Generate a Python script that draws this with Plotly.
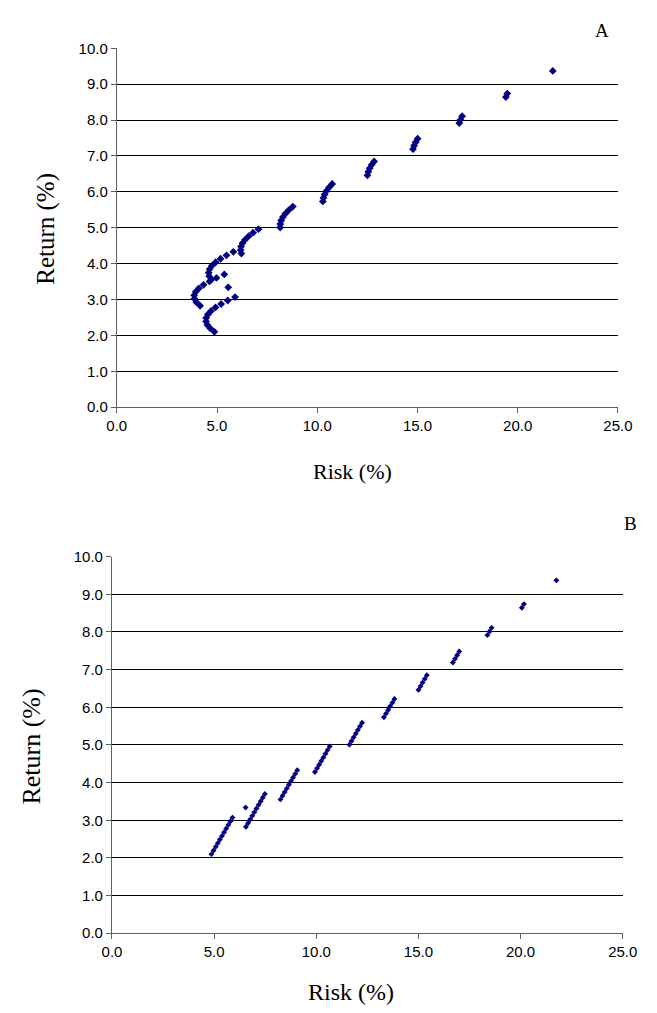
import plotly.graph_objects as go

# Expected return (%) of each portfolio (same portfolios in both panels)
returns = [
    2.100, 2.197, 2.294, 2.391, 2.488, 2.585, 2.682, 2.779, 2.876, 2.973, 3.070,
    2.827, 2.924, 3.021, 3.118, 3.215, 3.312, 3.409, 3.506, 3.603, 3.700,
    3.554, 3.651, 3.748, 3.845, 3.942, 4.039, 4.136, 4.233, 4.330,
    4.281, 4.378, 4.475, 4.572, 4.669, 4.766, 4.863, 4.960,
    5.008, 5.105, 5.202, 5.299, 5.396, 5.493, 5.590,
    5.735, 5.832, 5.929, 6.026, 6.123, 6.220,
    6.462, 6.559, 6.656, 6.753, 6.850,
    7.189, 7.286, 7.383, 7.480,
    7.916, 8.013, 8.110,
    8.643, 8.740,
    9.370,
    3.340,
]

# Panel A risk (%)
risk_a = [
    4.870, 4.662, 4.521, 4.453, 4.461, 4.546, 4.703, 4.926, 5.205, 5.533, 5.900,
    4.156, 3.975, 3.874, 3.862, 3.937, 4.096, 4.330, 4.626, 4.974, 5.364,
    4.716, 4.612, 4.583, 4.628, 4.746, 4.931, 5.176, 5.473, 5.815,
    6.215, 6.180, 6.199, 6.273, 6.401, 6.578, 6.801, 7.067,
    8.150, 8.155, 8.201, 8.288, 8.415, 8.581, 8.782,
    10.279, 10.307, 10.369, 10.462, 10.588, 10.744,
    12.502, 12.546, 12.616, 12.713, 12.837,
    14.777, 14.831, 14.908, 15.008,
    17.084, 17.145, 17.227,
    19.410, 19.478,
    21.750,
    5.560,
]

# Panel B risk (%)
risk_b = [
    4.870, 4.973, 5.076, 5.179, 5.282, 5.385, 5.488, 5.591, 5.694, 5.797, 5.900,
    6.558, 6.661, 6.764, 6.867, 6.970, 7.073, 7.176, 7.279, 7.382, 7.485,
    8.246, 8.349, 8.452, 8.555, 8.658, 8.761, 8.864, 8.967, 9.070,
    9.934, 10.037, 10.140, 10.243, 10.346, 10.449, 10.552, 10.655,
    11.622, 11.725, 11.828, 11.931, 12.034, 12.137, 12.240,
    13.310, 13.413, 13.516, 13.619, 13.722, 13.825,
    14.998, 15.101, 15.204, 15.307, 15.410,
    16.686, 16.789, 16.892, 16.995,
    18.374, 18.477, 18.580,
    20.062, 20.165,
    21.750,
    6.540,
]

x_ticks = [0, 5, 10, 15, 20, 25]
y_ticks = [0, 1, 2, 3, 4, 5, 6, 7, 8, 9, 10]
x_title = "Risk (%)"
y_title = "Return (%)"
panel_labels = ["A", "B"]

W, H = 657, 1013
NAVY = "#000080"
TICKFONT = dict(family="Liberation Sans", size=15, color="black")
SERIF = "Liberation Serif"

fig = go.Figure()
fig.add_trace(go.Scatter(x=risk_a, y=returns, mode="markers", xaxis="x", yaxis="y",
                         marker=dict(symbol="diamond", size=6, color=NAVY,
                                     line=dict(width=0)),
                         showlegend=False, hoverinfo="x+y"))
fig.add_trace(go.Scatter(x=risk_b, y=returns, mode="markers", xaxis="x2", yaxis="y2",
                         marker=dict(symbol="diamond", size=4.5, color=NAVY,
                                     line=dict(width=0)),
                         showlegend=False, hoverinfo="x+y"))


def px_x(p):
    return p / W


def px_y(p):
    return 1 - p / H


common_x = dict(range=[0, 25], tickvals=x_ticks, ticktext=[f"{v:.1f}" for v in x_ticks],
                showgrid=False, zeroline=False, showline=True, linecolor="#606060",
                linewidth=1, ticks="outside", ticklen=5, tickcolor="#606060",
                tickfont=TICKFONT, fixedrange=True)
common_y = dict(range=[0, 10], tickvals=y_ticks, ticktext=[f"{v:.1f}" for v in y_ticks],
                showgrid=True, gridcolor="black", gridwidth=1, zeroline=False,
                showline=True, linecolor="#606060", linewidth=1, ticks="outside",
                ticklen=5, tickcolor="#606060", tickfont=TICKFONT, fixedrange=True)

fig.update_layout(
    width=W, height=H,
    margin=dict(l=0, r=0, t=0, b=0),
    paper_bgcolor="white", plot_bgcolor="white",
    font=dict(family="Liberation Sans"),
    xaxis=dict(domain=[px_x(111), px_x(632)], anchor="y", **common_x),
    yaxis=dict(domain=[px_y(405), px_y(40)], anchor="x", **common_y),
    xaxis2=dict(domain=[px_x(106), px_x(637)], anchor="y2", **common_x),
    yaxis2=dict(domain=[px_y(940), px_y(557)], anchor="x2", **common_y),
)

annotations = [
    dict(text=x_title, x=px_x(356), y=px_y(470), font=dict(family=SERIF, size=22)),
    dict(text=y_title, x=px_x(38), y=px_y(224), textangle=-90, font=dict(family=SERIF, size=25)),
    dict(text=panel_labels[0], x=px_x(615), y=px_y(22), font=dict(family=SERIF, size=19)),
    dict(text=x_title, x=px_x(355), y=px_y(1000), font=dict(family=SERIF, size=24)),
    dict(text=y_title, x=px_x(22), y=px_y(750), textangle=-90, font=dict(family=SERIF, size=26)),
    dict(text=panel_labels[1], x=px_x(645), y=px_y(523), font=dict(family=SERIF, size=19)),
]
for a in annotations:
    a.update(xref="paper", yref="paper", showarrow=False, xanchor="center", yanchor="middle")
    a["font"]["color"] = "black"
fig.update_layout(annotations=annotations)

fig.write_html("out.html")
